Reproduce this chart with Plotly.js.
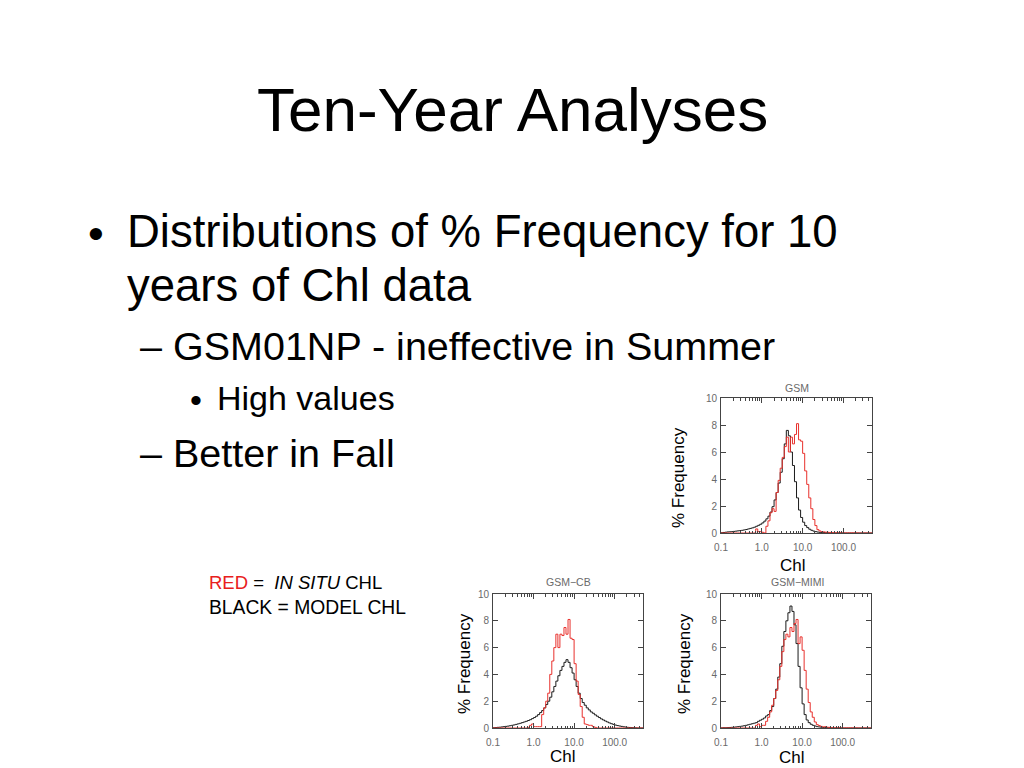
<!DOCTYPE html>
<html>
<head>
<meta charset="utf-8">
<script src="https://cdn.plot.ly/plotly-3.0.1.min.js"></script>
<style>
  html, body { margin: 0; padding: 0; background: #fff; }
  #chart { width: 1024px; height: 768px; }
</style>
</head>
<body>
<div id="chart"></div>
<script>
// ---------- Histogram bins (log10 Chl) ----------
const logBinStart = -1.0;   // 0.1 mg/m3
const logBinWidth = 0.05;   // 20 bins per decade
const nBins = 74;           // up to ~500

// ---------- Panel titles ----------
const panelTitles = ['GSM', 'GSM\u2212CB', 'GSM\u2212MIMI'];

// ---------- Axis tick labels ----------
const xTickVals = [0.1, 1, 10, 100];
const xTickText = ['0.1', '1.0', '10.0', '100.0'];
const yTickVals = [0, 2, 4, 6, 8, 10];
const yTickText = ['0', '2', '4', '6', '8', '10'];

// ---------- % Frequency values (black = model, red = in situ) ----------
const gsmModel = [
  0.02,0.04,0.06,0.08,0.09,0.10,0.12,0.14,0.16,0.18,
  0.20,0.23,0.26,0.30,0.34,0.38,0.43,0.50,0.57,0.65,
  0.75,0.88,1.05,1.25,1.55,1.95,2.45,3.00,3.70,4.50,
  5.50,6.60,7.60,7.20,6.00,5.00,3.80,2.60,1.70,1.15,
  0.80,0.55,0.40,0.28,0.20,0.14,0.10,0.07,0.05,0.04,
  0.03,0.02,0.02,0.01,0,0,0,0,0,0,
  0,0,0,0,0,0,0,0,0,0,
  0,0,0,0];
const gsmInSitu = [
  0,0,0,0,0,0,0,0,0,0,
  0,0,0,0,0,0,0,0.30,0.10,0.10,
  0.05,0,0.50,0.90,1.50,1.80,1.60,3.00,3.90,4.80,
  5.60,6.40,7.10,6.00,7.10,6.60,7.30,8.10,6.90,6.80,
  5.90,4.60,3.60,2.60,1.80,1.00,0.55,0.25,0.15,0.10,
  0.08,0.06,0.05,0.04,0.03,0.03,0.02,0.02,0.02,0.01,
  0.01,0.01,0.01,0.01,0.01,0.01,0.01,0,0,0,
  0,0,0,0];
const cbModel = [
  0.02,0.03,0.05,0.06,0.08,0.10,0.12,0.14,0.17,0.20,
  0.23,0.27,0.31,0.35,0.40,0.45,0.50,0.56,0.62,0.70,
  0.78,0.88,1.00,1.15,1.30,1.50,1.75,2.00,2.30,2.70,
  3.10,3.50,3.90,4.30,4.60,4.90,5.10,4.90,4.50,4.10,
  3.60,3.10,2.60,2.20,1.90,1.70,1.50,1.35,1.20,1.10,
  0.98,0.88,0.78,0.68,0.60,0.52,0.45,0.38,0.32,0.27,
  0.22,0.18,0.15,0.12,0.09,0.07,0.05,0.04,0.03,0.02,
  0.01,0,0,0];
const cbInSitu = [
  0,0,0,0,0,0,0,0,0,0,
  0,0,0,0,0,0,0,0.05,0.20,0.30,
  0.10,0.10,0.10,0.10,1.00,1.50,2.00,2.60,4.00,5.00,
  6.00,7.00,6.00,7.00,6.90,7.50,7.00,8.10,6.70,6.60,
  4.80,3.50,2.50,1.60,0.80,0.30,0.25,0.20,0.20,0.10,
  0.05,0,0,0,0,0,0,0,0,0,
  0,0,0,0,0,0,0,0,0,0,
  0,0,0,0];
const mimiModel = [
  0.01,0.02,0.02,0.03,0.04,0.05,0.06,0.08,0.10,0.12,
  0.14,0.17,0.20,0.24,0.28,0.32,0.36,0.40,0.50,0.58,
  0.66,0.75,0.90,1.00,1.30,1.60,2.20,2.90,3.80,4.80,
  6.10,7.20,8.00,8.60,9.10,8.70,7.70,6.30,4.60,3.00,
  1.80,1.00,0.60,0.40,0.28,0.20,0.15,0.10,0.08,0.06,
  0.04,0.03,0.02,0.02,0.01,0,0,0,0,0,
  0,0,0,0,0,0,0,0,0,0,
  0,0,0,0];
const mimiInSitu = [
  0,0,0,0,0,0,0,0,0,0,
  0,0,0,0,0,0,0,0.20,0.30,0.10,
  0.20,0.20,0.50,0.80,1.20,1.70,2.20,2.80,3.60,4.60,
  5.70,6.60,7.00,6.80,7.50,7.20,7.80,8.10,6.30,6.80,
  5.80,4.30,2.90,1.90,1.20,0.80,0.45,0.25,0.18,0.12,
  0.08,0.10,0.06,0.05,0.03,0.03,0.02,0.02,0.02,0.01,
  0.01,0.01,0.01,0.01,0.01,0.01,0.01,0,0,0,
  0,0,0,0];

// ---------- Build figure ----------
const W = 1024, H = 768;
const px = x => x / W;
const py = y => 1 - y / H;

const binEdges = [];
for (let i = 0; i <= nBins; i++) binEdges.push(Math.pow(10, logBinStart + i * logBinWidth));

function stepTrace(vals, color, xa, ya) {
  const xs = binEdges.slice();
  const ys = vals.concat([vals[vals.length - 1]]);
  return { type: 'scatter', mode: 'lines', x: xs, y: ys, xaxis: xa, yaxis: ya,
           line: { shape: 'hv', color: color, width: 1 }, hoverinfo: 'skip' };
}

const BLACK = '#1a1a1a', RED = '#e8302c';
const traces = [
  stepTrace(gsmModel, BLACK, 'x', 'y'),
  stepTrace(gsmInSitu, RED, 'x', 'y'),
  stepTrace(cbModel, BLACK, 'x2', 'y2'),
  stepTrace(cbInSitu, RED, 'x2', 'y2'),
  stepTrace(mimiModel, BLACK, 'x3', 'y3'),
  stepTrace(mimiInSitu, RED, 'x3', 'y3')
];

const minorX = [];
[0.1, 1, 10, 100].forEach(d => { for (let k = 2; k <= 9; k++) if (d * k <= 500) minorX.push(d * k); });

const tickFont = { family: 'Liberation Sans, Arial, sans-serif', size: 10, color: '#6a6a6a' };
function xAxis(x0, x1, anchor) {
  return { type: 'log', domain: [px(x0), px(x1)], anchor: anchor,
    range: [-1, Math.log10(500)], tickvals: xTickVals, ticktext: xTickText,
    ticks: 'inside', ticklen: 5, tickwidth: 1, tickcolor: '#444', ticklabelstandoff: 5,
    showline: true, linecolor: '#444', linewidth: 1, mirror: 'allticks',
    showgrid: false, zeroline: false, tickfont: tickFont, fixedrange: true,
    minor: { ticks: 'inside', ticklen: 2.5, tickcolor: '#444', tickvals: minorX, showgrid: false } };
}
function yAxis(yTop, yBot, anchor) {
  return { domain: [py(yBot), py(yTop)], anchor: anchor, range: [0, 10],
    tickvals: yTickVals, ticktext: yTickText,
    ticks: 'inside', ticklen: 5, tickwidth: 1, tickcolor: '#444', ticklabelstandoff: 1,
    showline: true, linecolor: '#444', linewidth: 1, mirror: 'allticks',
    showgrid: false, zeroline: false, tickfont: tickFont, fixedrange: true };
}

const SANS = 'Liberation Sans, Arial, Helvetica, sans-serif';
function txt(text, x, y, size, opts) {
  return Object.assign({ text: text, x: px(x), y: py(y), xref: 'paper', yref: 'paper',
    showarrow: false, xanchor: 'left', yanchor: 'middle',
    font: { family: SANS, size: size, color: '#000' } }, opts || {});
}
const grayFont = { family: SANS, size: 10.5, color: '#6a6a6a' };

const annotations = [
  txt('Ten-Year Analyses', 512, 109, 62, { xanchor: 'center' }),
  txt('\u2022', 86, 233, 45),
  txt('Distributions of % Frequency for 10', 125, 231, 45.5),
  txt('years of Chl data', 125, 286, 45.5),
  txt('\u2013 GSM01NP - ineffective in Summer', 138, 346, 39.5),
  txt('\u2022', 188, 400, 34),
  txt('High values', 215, 398, 34),
  txt('\u2013 Better in Fall', 138, 453, 39.5),
  txt('<span style="color:#e8201c">RED</span> =  <i>IN SITU</i> CHL', 207, 582, 18.5),
  txt('BLACK = MODEL CHL', 207, 607, 19.3),
  // panel titles
  txt(panelTitles[0], 797, 388, 10.5, { xanchor: 'center', font: grayFont }),
  txt(panelTitles[1], 568, 582, 10.5, { xanchor: 'center', font: grayFont }),
  txt(panelTitles[2], 797, 582, 10.5, { xanchor: 'center', font: grayFont }),
  // axis titles
  txt('% Frequency', 678, 478, 17, { xanchor: 'center', textangle: -90 }),
  txt('Chl', 793, 565, 17, { xanchor: 'center' }),
  txt('% Frequency', 464, 664, 17, { xanchor: 'center', textangle: -90 }),
  txt('Chl', 563, 756, 17, { xanchor: 'center' }),
  txt('% Frequency', 684, 664, 17, { xanchor: 'center', textangle: -90 }),
  txt('Chl', 792, 757, 17, { xanchor: 'center' })
];

const layout = {
  width: W, height: H,
  margin: { l: 0, r: 0, t: 0, b: 0 },
  paper_bgcolor: '#fff', plot_bgcolor: '#fff',
  showlegend: false,
  font: { family: SANS },
  xaxis: xAxis(721, 872, 'y'),
  yaxis: yAxis(398, 533, 'x'),
  xaxis2: xAxis(493, 643, 'y2'),
  yaxis2: yAxis(594, 728, 'x2'),
  xaxis3: xAxis(721, 871, 'y3'),
  yaxis3: yAxis(594, 728, 'x3'),
  annotations: annotations
};

Plotly.newPlot('chart', traces, layout, { displayModeBar: false, staticPlot: true });
</script>
</body>
</html>
